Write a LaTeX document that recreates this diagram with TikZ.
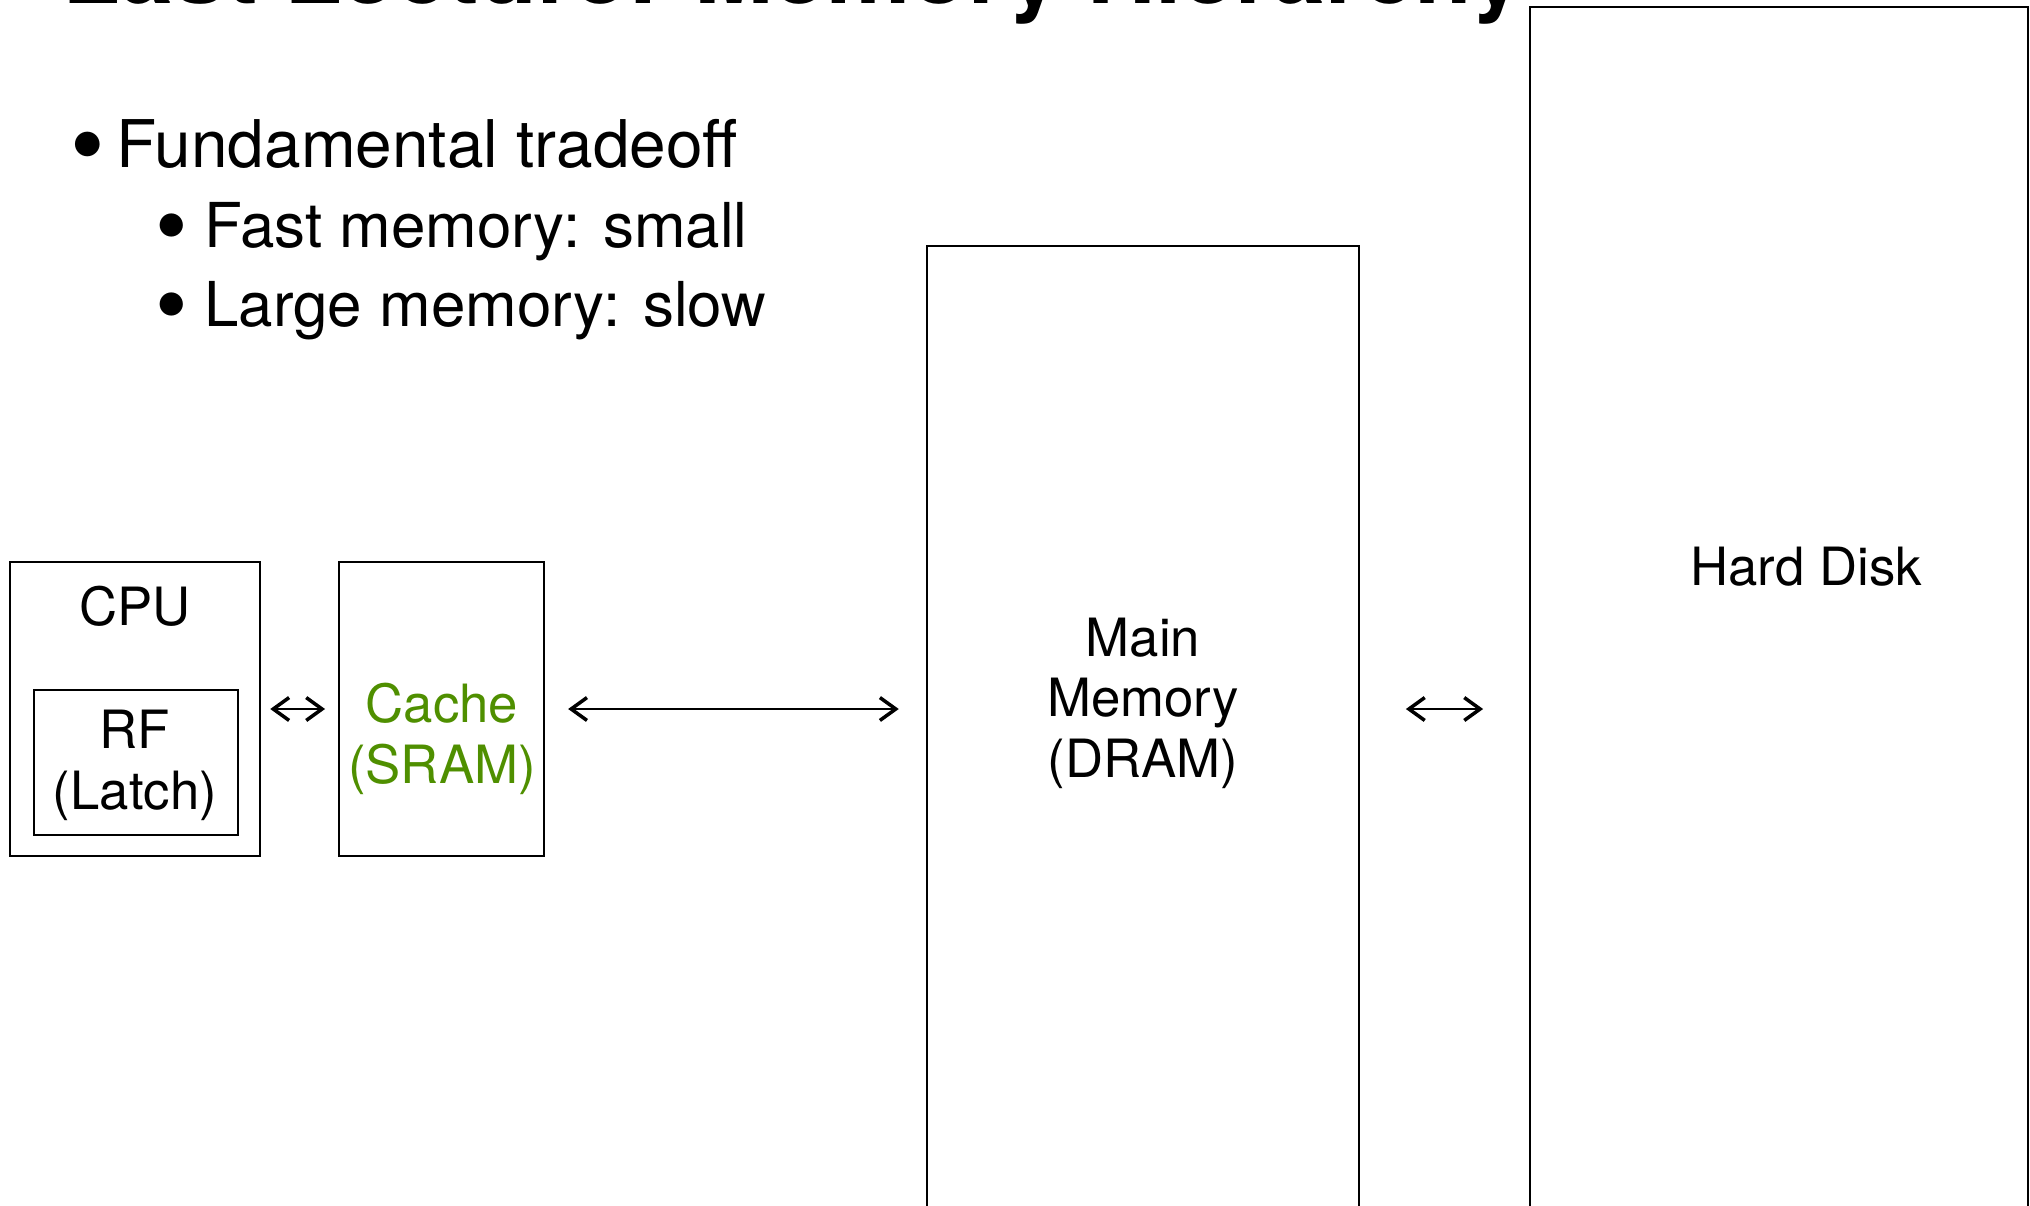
\documentclass[tikz,border=0pt]{standalone}
\usepackage{fontspec}
\usepackage{graphicx}
\setmainfont{TeX Gyre Heros}
\usetikzlibrary{arrows.meta,positioning}
\definecolor{cachegreen}{RGB}{79,143,0}
\newcommand{\slidebullet}{\raisebox{-0.17em}{\scalebox{1.5}{\textbullet}}}
\tikzstyle{block} = [draw, rectangle, line width=0.6pt, inner sep=0pt]
\tikzstyle{lbl} = [anchor=base, align=center, inner sep=0pt, font=\fontsize{15}{17.1}\selectfont]
\tikzstyle{item} = [anchor=base west, inner sep=0pt]
\tikzstyle{link} = [<->, line width=0.6pt]

\begin{document}
\begin{tikzpicture}[x=0.01cm, y=-0.01cm, >={Straight Barb[length=4.5pt,width=6.5pt,line width=1pt]}]
\useasboundingbox (0,0) rectangle (2030,1206);
\clip (0,0) rectangle (2030,1206);

% title, cut off by the top edge
\node [anchor=base west, inner sep=0pt, font=\fontsize{27}{32}\selectfont\bfseries] (title) at (62,4) {Last Lecture: Memory Hierarchy};

\node [item, font=\fontsize{18.7}{22.8}\selectfont] (tradeoff) at (70,167) {\slidebullet\hspace{3.3pt}Fundamental tradeoff};
\node [item, font=\fontsize{17.6}{22.8}\selectfont] (fast) at (155,247) {\slidebullet\hspace{4.6pt}Fast memory: small};
\node [item, font=\fontsize{17.6}{22.8}\selectfont] (large) at (155,326) {\slidebullet\hspace{4.6pt}Large memory: slow};

% boxes
\node [block, minimum width=2.5cm, minimum height=2.94cm] (cpu) at (135,709) {};
\node [block, minimum width=2.04cm, minimum height=1.45cm] (rf) at (136,762.5) {};
\node [block, minimum width=2.05cm, minimum height=2.94cm, right of=cpu, node distance=3.065cm] (cache) {};
\node [block, minimum width=4.32cm, minimum height=9.74cm] (main) at (1143,733) {};
\node [block, minimum width=4.98cm, minimum height=12.13cm] (disk) at (1779,613.5) {};

% labels, placed by the baseline of their last line
\node [lbl] (cpulbl) at (135,625) {CPU};
\node [lbl] (rflbl) at (135,809) {RF\\(Latch)};
\node [lbl, text=cachegreen] (cachelbl) at (442,783) {Cache\\(SRAM)};
\node [lbl] (mainlbl) at (1143,777) {Main\\Memory\\(DRAM)};
\node [lbl] (disklbl) at (1806,585) {Hard Disk};

\draw [link, shorten <=2.6pt, shorten >=3.7pt] (cpu.east) -- (cache.west);
\draw [link, shorten <=6.5pt, shorten >=7.7pt] (cache.east) -- (cache.east -| main.west);
\draw [link, shorten <=13pt, shorten >=13pt] (cache.east -| main.east) -- (cache.east -| disk.west);

\end{tikzpicture}
\end{document}
